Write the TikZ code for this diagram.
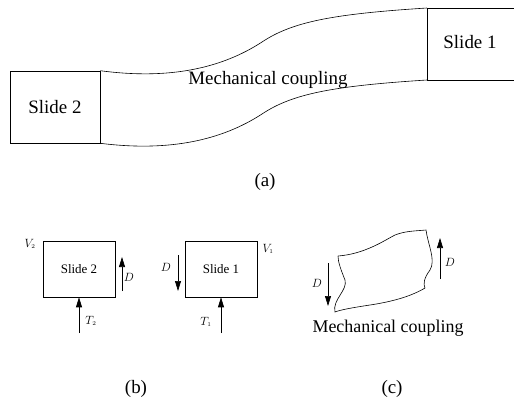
\documentclass[tikz,border=0pt]{standalone}
\usepackage{fontspec}
\setmainfont{Liberation Serif}
\usetikzlibrary{arrows.meta}
\begin{document}
\begin{tikzpicture}[x=1bp,y=-1bp,line width=0.6pt,
  box/.style={draw,minimum width=72bp,minimum height=56bp,inner sep=0pt,font=\fontsize{13}{15}\selectfont},
  bigbox/.style={draw,minimum width=90bp,minimum height=72bp,inner sep=0pt,font=\fontsize{19}{21}\selectfont},
  arr/.style={-{Triangle[length=10bp,width=6bp]},line width=0.7pt},
  lbl/.style={font=\fontsize{19}{21}\selectfont},
  sym/.style={font=\fontsize{13}{15}\selectfont,inner sep=1pt}]
\useasboundingbox (0,0) rectangle (514,403);
% (a)
\node[bigbox] (s2a) at (55,107) {Slide 2};
\coordinate (s1tl) at (427,8);
\coordinate (s1bl) at (427,80);
\draw (514,8) -- (s1tl) -- (s1bl) -- (514,80);
\node[lbl] at (470,42) {Slide 1};
\draw (s2a.north east) .. controls (170,80) and (222,68) .. (262,42) .. controls (292,22) and (332,14) .. (s1tl);
\draw (s2a.south east) .. controls (170,152) and (222,140) .. (262,114) .. controls (292,94) and (332,86) .. (s1bl);
\node[lbl] (mc) at (268,80) {Mechanical coupling};
\node[lbl] (la) at (265,182) {(a)};
% (b)
\node[box] (s2b) at (79,269) {Slide 2};
\node[box] (s1b) at (221,269) {Slide 1};
\node[sym] (v2) at (30,244) {$V_{\scriptscriptstyle 2}$};
\node[sym] (v1) at (268,249) {$V_{\scriptscriptstyle 1}$};
\coordinate (t2s) at (79,333);
\coordinate (t1s) at (221,333);
\draw[arr] (t2s) -- (s2b.south);
\draw[arr] (t1s) -- (s1b.south);
\node[sym] (t2) at (91,321) {$T_{\scriptscriptstyle 2}$};
\node[sym] (t1) at (206,322) {$T_{\scriptscriptstyle 1}$};
\coordinate (d1a) at (122,291);
\coordinate (d1b) at (122,257);
\draw[arr] (d1a) -- (d1b);
\node[sym] (d1) at (129,277) {$D$};
\coordinate (d2a) at (178,255);
\coordinate (d2b) at (178,291);
\draw[arr] (d2a) -- (d2b);
\node[sym] (d2) at (166,267) {$D$};
\node[lbl] (lb) at (136,389) {(b)};
% (c)
\coordinate (ctl) at (338,256);
\coordinate (ctr) at (426,230);
\coordinate (cbr) at (425,288);
\coordinate (cbl) at (335,312);
\draw (ctl) .. controls (365,254) and (385,240) .. (395,235) .. controls (405,231) and (415,231) .. (ctr)
  .. controls (428,245) and (436,260) .. (430,270) .. controls (424,278) and (423,284) .. (cbr)
  .. controls (410,297) and (390,302) .. (370,305) .. controls (350,308) and (340,310) .. (cbl)
  .. controls (332,300) and (348,290) .. (345,280) .. controls (341,270) and (338,262) .. (ctl);
\coordinate (d3a) at (328,263);
\coordinate (d3b) at (328,306);
\draw[arr] (d3a) -- (d3b);
\node[sym] (d3) at (317,283) {$D$};
\coordinate (d4a) at (440,279);
\coordinate (d4b) at (440,238);
\draw[arr] (d4a) -- (d4b);
\node[sym] (d4) at (450,262) {$D$};
\node[font=\fontsize{18}{20}\selectfont] (mc2) at (388,328) {Mechanical coupling};
\node[lbl] (lc) at (392,389) {(c)};
\end{tikzpicture}
\end{document}
